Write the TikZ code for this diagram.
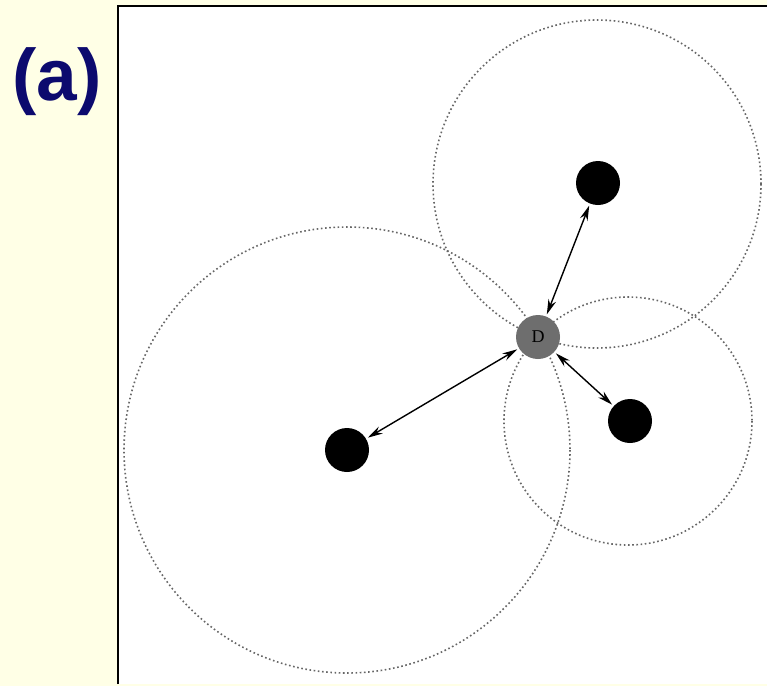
\documentclass[tikz,border=0pt]{standalone}
\usepackage{fontspec}
\newfontfamily\labelfont{Liberation Sans}
\newfontfamily\dfont{Liberation Serif}
\usetikzlibrary{arrows.meta}
\definecolor{bgyellow}{HTML}{FFFFE6}
\definecolor{navy}{HTML}{0C0A6E}
\definecolor{dgray}{HTML}{6E6E6E}
\tikzset{
  rangecircle/.style={draw=black!60, line width=1.6pt, dash pattern=on 1.6pt off 2.6pt},
  sensor/.style={circle, fill=black, minimum size=44pt, inner sep=0pt},
  dnode/.style={circle, fill=dgray, minimum size=44pt, inner sep=0pt, font=\dfont\fontsize{18}{20}\selectfont},
  link/.style={{Stealth[length=15pt,width=8pt]}-{Stealth[length=15pt,width=8pt]}, line width=1.4pt, shorten <=2pt, shorten >=2pt}
}
\begin{document}
\begin{tikzpicture}[x=1pt,y=-1pt]
\useasboundingbox (0,0) rectangle (767,686);
\fill[bgyellow] (0,0) rectangle (767,686);
\fill[white] (118,6) rectangle (767,684);
\draw[line width=2.8pt] (118,684) -- (118,6) -- (767,6);
\node[font=\labelfont\bfseries\fontsize{73}{80}\selectfont, text=navy] (lbl) at (57,82) {(a)};
\begin{scope}
\clip (120,8) rectangle (767,684);
\draw[rangecircle] (347,450) circle (223);
\draw[rangecircle] (597,184) circle (164);
\draw[rangecircle] (628,421) circle (124);
\end{scope}
\node[dnode] (D) at (538,337) {D};
\node[sensor] (s1) at (347,450) {};
\node[sensor] (s2) at (598,183) {};
\node[sensor] (s3) at (630,421) {};
\draw[link] (D) -- (s1);
\draw[link] (D) -- (s2);
\draw[link] (D) -- (s3);
\end{tikzpicture}
\end{document}
